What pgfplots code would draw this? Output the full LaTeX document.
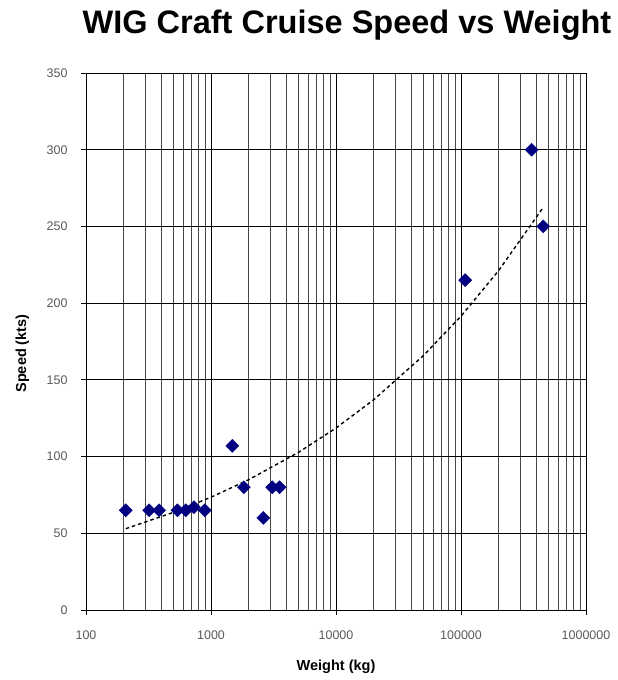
\documentclass[border=0pt]{standalone}
\usepackage{fontspec}
\setmainfont{Liberation Sans}
\usepackage{pgfplots}
\pgfplotsset{compat=1.18}
\definecolor{navy}{RGB}{0,0,128}
\begin{document}
\begin{tikzpicture}
\begin{axis}[
  name=ax,
  scale only axis,
  width=500pt, height=537pt,
  xmode=log,
  xmin=100, xmax=1000000,
  ymin=0, ymax=350,
  xtick={100,1000,10000,100000,1000000},
  xticklabels={100,1000,10000,100000,1000000},
  minor xtick={200,300,400,500,600,700,800,900,2000,3000,4000,5000,6000,7000,8000,9000,20000,30000,40000,50000,60000,70000,80000,90000,200000,300000,400000,500000,600000,700000,800000,900000},
  ytick={0,50,100,150,200,250,300,350},
  /pgf/number format/assume math mode=true,
  tick label style={font=\fontsize{12.5}{14}\selectfont, text=black!65},
  xmajorgrids, xminorgrids, ymajorgrids,
  major grid style={black, line width=0.8pt},
  minor grid style={black!72, line width=0.8pt},
  axis line style={black, line width=0.8pt},
  tick align=outside,
  major tick length=5pt, minor tick length=0pt,
  tick style={black, line width=0.8pt},
  xtick pos=bottom, ytick pos=left,
  xticklabel style={yshift=-12pt},
  yticklabel style={xshift=-10pt},
  xlabel={\bfseries Weight (kg)},
  ylabel={\bfseries Speed (kts)},
  label style={font=\fontsize{14.5}{16}\selectfont},
  xlabel style={at={(0.5,0)}, anchor=base, yshift=-60pt},
  ylabel style={at={(0,0.5)}, anchor=base, yshift=60pt, xshift=-12pt},
]
\addplot[black, line width=1.4pt, dash pattern=on 3.5pt off 3pt] coordinates {
 (208,53) (500,63.6) (1000,73.5) (2000,84.9) (5000,102.7) (10000,118.6)
 (20000,137.0) (50000,165.8) (100000,191.5) (200000,221.2) (455000,262.4)
};
\addplot[only marks, mark=square*, mark size=4.6pt, mark options={rotate=45, fill=navy, draw=navy}] coordinates {
 (208,65) (320,65) (385,65) (539,65) (628,65) (731,67) (891,65)
 (1482,107) (1833,80) (2619,60) (3090,80) (3533,80)
 (107900,215) (367000,300) (455000,250)
};
\end{axis}
\node[anchor=base, font=\fontsize{32.5}{34}\selectfont\bfseries] at ([xshift=11pt,yshift=39pt]ax.north) {WIG Craft Cruise Speed vs Weight};
\path[use as bounding box] ([xshift=-86pt,yshift=-70pt]ax.south west) rectangle ([xshift=32pt,yshift=73pt]ax.north east);
\end{tikzpicture}
\end{document}
